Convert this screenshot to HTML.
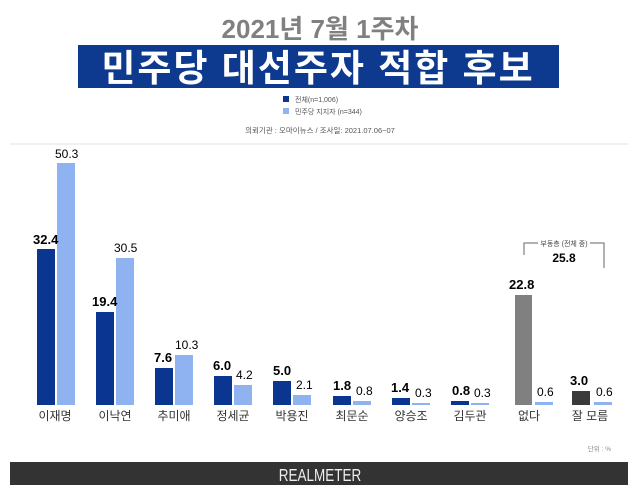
<!DOCTYPE html>
<html><head><meta charset="utf-8"><style>
html,body{margin:0;padding:0;background:#fff;}
svg{display:block;font-family:"Liberation Sans","Noto Sans CJK KR",sans-serif;}
</style></head><body>
<svg width="640" height="492" viewBox="0 0 640 492" xmlns="http://www.w3.org/2000/svg">
<rect width="640" height="492" fill="#fff"/>
<text x="320" y="38" text-anchor="middle" font-size="26" font-weight="bold" fill="#808080">2021년 7월 1주차</text>
<rect x="78" y="45" width="481" height="43" fill="#0d3a8f"/>
<text x="318" y="81" text-anchor="middle" font-size="37" font-weight="bold" fill="#fff" letter-spacing="2">민주당 대선주자 적합 후보</text>
<rect x="283" y="96" width="6" height="6" fill="#0a3590"/>
<text x="295" y="102" font-size="7" fill="#555">전체(n=1,006)</text>
<rect x="283" y="108" width="6" height="6" fill="#8fb3f0"/>
<text x="295" y="114" font-size="7" fill="#555">민주당 지지자 (n=344)</text>
<text x="320" y="133" text-anchor="middle" font-size="7.5" fill="#555">의뢰기관 : 오마이뉴스  /  조사일: 2021.07.06~07</text>
<line x1="10" y1="144" x2="628" y2="144" stroke="#f0f0f0" stroke-width="2"/>
<g font-size="12">
<rect x="37" y="249" width="18" height="156" fill="#0a3590"/><rect x="57" y="163" width="18" height="242" fill="#8fb3f0"/>
<text x="33" y="244" font-weight="bold" font-size="13">32.4</text><text x="55" y="158">50.3</text>
<rect x="96" y="312" width="18" height="93" fill="#0a3590"/><rect x="116" y="258" width="18" height="147" fill="#8fb3f0"/>
<text x="92" y="306" font-weight="bold" font-size="13">19.4</text><text x="114" y="252">30.5</text>
<rect x="155" y="368" width="18" height="37" fill="#0a3590"/><rect x="175" y="355" width="18" height="50" fill="#8fb3f0"/>
<text x="154" y="362" font-weight="bold" font-size="13">7.6</text><text x="175" y="349">10.3</text>
<rect x="214" y="376" width="18" height="29" fill="#0a3590"/><rect x="234" y="385" width="18" height="20" fill="#8fb3f0"/>
<text x="213" y="370" font-weight="bold" font-size="13">6.0</text><text x="236" y="379">4.2</text>
<rect x="273" y="381" width="18" height="24" fill="#0a3590"/><rect x="293" y="395" width="18" height="10" fill="#8fb3f0"/>
<text x="273" y="375" font-weight="bold" font-size="13">5.0</text><text x="296" y="389">2.1</text>
<rect x="333" y="396" width="18" height="9" fill="#0a3590"/><rect x="353" y="401" width="18" height="4" fill="#8fb3f0"/>
<text x="333" y="390" font-weight="bold" font-size="13">1.8</text><text x="356" y="395">0.8</text>
<rect x="392" y="398" width="18" height="7" fill="#0a3590"/><rect x="412" y="403" width="18" height="2" fill="#8fb3f0"/>
<text x="391" y="392" font-weight="bold" font-size="13">1.4</text><text x="415" y="397">0.3</text>
<rect x="451" y="401" width="18" height="4" fill="#0a3590"/><rect x="471" y="403" width="18" height="2" fill="#8fb3f0"/>
<text x="452" y="395" font-weight="bold" font-size="13">0.8</text><text x="474" y="397">0.3</text>
<rect x="515" y="295" width="17" height="110" fill="#808080"/><rect x="535" y="402" width="18" height="3" fill="#8fb3f0"/>
<text x="509" y="289" font-weight="bold" font-size="13">22.8</text><text x="537" y="396">0.6</text>
<rect x="572" y="391" width="18" height="14" fill="#3a3a3a"/><rect x="594" y="402" width="18" height="3" fill="#8fb3f0"/>
<text x="570" y="385" font-weight="bold" font-size="13">3.0</text><text x="596" y="396">0.6</text>
</g>
<g font-size="12" fill="#333" text-anchor="middle">
<text x="55" y="420">이재명</text><text x="115" y="420">이낙연</text><text x="174" y="420">추미애</text>
<text x="233" y="420">정세균</text><text x="292" y="420">박용진</text><text x="352" y="420">최문순</text>
<text x="411" y="420">양승조</text><text x="470" y="420">김두관</text><text x="529" y="420">없다</text><text x="590" y="420">잘 모름</text>
</g>
<path d="M524 255 V243 H538 M590 243 H604 V268" stroke="#666" fill="none" stroke-width="1"/>
<text x="564" y="246" text-anchor="middle" font-size="7" fill="#444">부동층 (전체 중)</text>
<text x="564" y="262" text-anchor="middle" font-size="12" font-weight="bold">25.8</text>
<text x="611" y="451" text-anchor="end" font-size="6.5" fill="#888">단위 : %</text>
<rect x="10" y="462" width="618" height="23" fill="#333"/>
<text x="320" y="481" text-anchor="middle" font-size="18" fill="#eee" transform="translate(320 0) scale(0.75 1) translate(-320 0)">REALMETER</text>
</svg>
</body></html>
